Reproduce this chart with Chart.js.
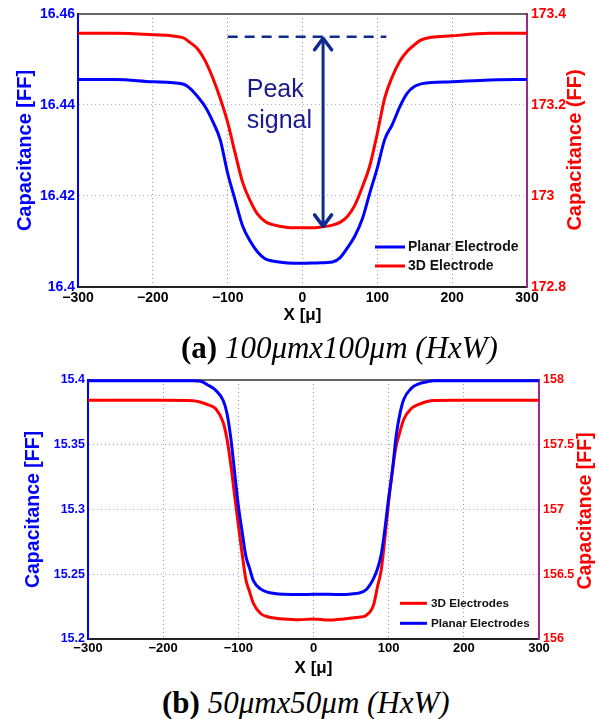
<!DOCTYPE html>
<html><head><meta charset="utf-8">
<script src="https://cdn.jsdelivr.net/npm/chart.js@4.4.1/dist/chart.umd.min.js"></script>
<style>
html,body{margin:0;padding:0;background:#fff;}
body{width:599px;height:719px;position:relative;overflow:hidden;}
canvas{position:absolute;left:0;}
.cap{position:absolute;font-family:"Liberation Serif","Times New Roman",serif;font-size:31px;line-height:31px;white-space:nowrap;color:#000;}
.cap b{font-weight:bold;font-style:normal;} .cap i{font-style:italic;}
</style></head><body>
<canvas id="ca" width="599" height="330" style="top:0"></canvas>
<canvas id="cb" width="599" height="320" style="top:360px"></canvas>
<div class="cap" style="left:181px;top:332px"><b>(a)</b> <i>100μmx100μm (HxW)</i></div>
<div class="cap" style="left:162px;top:687px"><b>(b)</b> <i>50μmx50μm (HxW)</i></div>
<script>
// ---------- data (a) 100umx100um ----------
const X_A = [-300,-250,-200,-160,-150,-140,-130,-120,-110,-100,-90,-80,-70,-60,-50,-40,-20,0,20,40,50,60,70,80,90,100,110,120,130,140,150,160,200,250,300];
const PLANAR_A = [16.4456,16.4456,16.4451,16.4446,16.4436,16.4418,16.4396,16.4364,16.4324,16.4250,16.4191,16.4134,16.4101,16.4077,16.4062,16.4057,16.4053,16.4052,16.4053,16.4055,16.4064,16.4086,16.4112,16.4150,16.4207,16.4262,16.4325,16.4357,16.4396,16.4426,16.4441,16.4447,16.4451,16.4455,16.4456];
const ELEC3D_A = [173.3575,173.3575,173.3545,173.348,173.337,173.323,173.297,173.260,173.215,173.162,173.094,173.030,172.990,172.960,172.944,172.937,172.931,172.930,172.931,172.936,172.942,172.955,172.980,173.020,173.067,173.138,173.216,173.262,173.296,173.318,173.333,173.344,173.352,173.3575,173.3575];
const LABELS_A = ['Planar Electrode','3D Electrode'];
// ---------- data (b) 50umx50um ----------
const X_B = [-300,-200,-160,-150,-140,-130,-120,-115,-110,-105,-100,-95,-90,-85,-80,-70,-60,-50,-40,-20,0,20,40,50,60,70,80,85,90,95,100,105,110,115,120,130,140,150,160,200,300];
const PLANAR_B = [15.3995,15.3995,15.3995,15.399,15.396,15.392,15.384,15.374,15.355,15.329,15.303,15.283,15.264,15.2545,15.245,15.2385,15.236,15.235,15.2346,15.2343,15.2345,15.2346,15.2343,15.2348,15.2354,15.2380,15.2468,15.254,15.265,15.285,15.309,15.330,15.357,15.374,15.385,15.3935,15.397,15.3985,15.3995,15.3995,15.3995];
const ELEC3D_B = [157.843,157.843,157.840,157.828,157.808,157.778,157.670,157.540,157.345,157.110,156.880,156.660,156.460,156.365,156.275,156.195,156.170,156.160,156.154,156.148,156.155,156.146,156.155,156.162,156.168,156.182,156.265,156.400,156.530,156.780,157.060,157.305,157.490,157.600,157.695,157.780,157.812,157.832,157.842,157.843,157.843];
const LABELS_B = ['Planar Electrodes','3D Electrodes'];
// ---------- ticks ----------
const X_TICKS = [-300,-200,-100,0,100,200,300];
const Y_TICKS_A_LEFT = [16.4,16.42,16.44,16.46];
const Y_TICKS_A_RIGHT = [172.8,173,173.2,173.4];
const Y_TICKS_B_LEFT = [15.2,15.25,15.3,15.35,15.4];
const Y_TICKS_B_RIGHT = [156,156.5,157,157.5,158];
// ---------- annotation (a) ----------
const PEAK_DASH_X = [-100,112];
const PEAK_X = 27.5;
const PEAK_RANGE = [173.35,172.93];
const PEAK_TEXT = ['Peak','signal'];
const PEAK_TEXT_POS = [-74.5,173.217];

const BLUE='#0000ff', RED='#ff0000', FONT='"Liberation Sans", Arial, sans-serif';
const fmt = v => String(+(+v).toFixed(4)).replace('-','\u2212');

const framePlugin = {
  id:'frame',
  beforeDatasetsDraw(chart){
    const {ctx, chartArea:a} = chart;
    ctx.save(); ctx.strokeStyle='#333'; ctx.lineWidth=1.5;
    ctx.beginPath(); ctx.moveTo(a.left,a.top); ctx.lineTo(a.right,a.top); ctx.stroke(); ctx.restore();
  }
};
const legendPlugin = {
  id:'inlegend',
  afterDatasetsDraw(chart, args, o){
    if(!o || !o.order) return;
    const ctx=chart.ctx; ctx.save();
    ctx.font='bold '+o.size+'px '+FONT; ctx.textBaseline='middle'; ctx.fillStyle='#111';
    o.order.forEach((di,k)=>{
      const ds=chart.data.datasets[di]; const y=o.y+k*o.dy;
      ctx.strokeStyle=ds.borderColor; ctx.lineWidth=3;
      ctx.beginPath(); ctx.moveTo(o.x0,y); ctx.lineTo(o.x1,y); ctx.stroke();
      ctx.fillText(ds.label,o.tx,y+0.5);
    });
    ctx.restore();
  }
};
const rightTitlePlugin = {
  id:'rtitle',
  afterDraw(chart,args,o){
    if(!o || !o.text) return;
    const ctx=chart.ctx; ctx.save();
    ctx.translate(o.x,o.y); ctx.rotate(-Math.PI/2);
    ctx.font='bold '+o.size+'px '+FONT; ctx.fillStyle=RED; ctx.textAlign='center'; ctx.textBaseline='middle';
    ctx.fillText(o.text,0,0); ctx.restore();
  }
};
const peakPlugin = {
  id:'peak',
  afterDatasetsDraw(chart,args,o){
    if(!o || !o.on) return;
    const ctx=chart.ctx, sx=chart.scales.x, sy=chart.scales.y2;
    const col='#102a8f';
    ctx.save();
    ctx.strokeStyle=col; ctx.lineWidth=2.5; ctx.setLineDash([10,7]);
    const yd=sy.getPixelForValue(PEAK_RANGE[0]);
    ctx.beginPath(); ctx.moveTo(sx.getPixelForValue(PEAK_DASH_X[0]),yd); ctx.lineTo(sx.getPixelForValue(PEAK_DASH_X[1]),yd); ctx.stroke();
    ctx.setLineDash([]);
    const xa=sx.getPixelForValue(PEAK_X), y1=sy.getPixelForValue(PEAK_RANGE[0]), y2=sy.getPixelForValue(PEAK_RANGE[1]);
    ctx.lineWidth=3; ctx.lineCap='round'; ctx.lineJoin='round';
    ctx.beginPath(); ctx.moveTo(xa,y1+2); ctx.lineTo(xa,y2-2); ctx.stroke();
    ctx.lineWidth=3.5;
    ctx.beginPath(); ctx.moveTo(xa-8.5,y1+13); ctx.lineTo(xa,y1+1.5); ctx.lineTo(xa+8.5,y1+13); ctx.stroke();
    ctx.beginPath(); ctx.moveTo(xa-8.5,y2-13); ctx.lineTo(xa,y2-1.5); ctx.lineTo(xa+8.5,y2-13); ctx.stroke();
    ctx.fillStyle='#1a1a8c'; ctx.font='25px '+FONT; ctx.textBaseline='alphabetic'; ctx.textAlign='left';
    const tx=sx.getPixelForValue(PEAK_TEXT_POS[0]), ty=sy.getPixelForValue(PEAK_TEXT_POS[1]);
    PEAK_TEXT.forEach((t,i)=>ctx.fillText(t,tx,ty+i*31));
    ctx.restore();
  }
};

function build(id, c){
  const mk=(xs,ys,label,color,axis)=>({label, data:xs.map((x,i)=>({x,y:ys[i]})), yAxisID:axis,
    borderColor:color, backgroundColor:color, borderWidth:3, pointRadius:0, fill:false,
    cubicInterpolationMode:'monotone', clip:4});
  return new Chart(document.getElementById(id), {
    type:'line',
    data:{datasets:[mk(c.xs,c.planar,c.labels[0],BLUE,'y'), mk(c.xs,c.e3d,c.labels[1],RED,'y2')]},
    plugins:[framePlugin,legendPlugin,rightTitlePlugin,peakPlugin],
    options:{
      responsive:false, animation:false, events:[], devicePixelRatio:1,
      layout:{padding:{top:c.top,left:0,right:0,bottom:0}},
      plugins:{legend:{display:false}, tooltip:{enabled:false},
        inlegend:c.legend, rtitle:c.rtitle, peak:{on:c.peak}},
      scales:{
        x:{type:'linear', min:-300, max:300,
          afterBuildTicks:s=>{s.ticks=X_TICKS.map(v=>({value:v}));},
          afterFit:s=>{s.height=c.xh;},
          ticks:{callback:fmt, color:'#000', font:{family:FONT,size:c.xts,weight:'bold'}, padding:c.xtp, maxRotation:0, autoSkip:false},
          grid:{color:ctx=>(ctx.index===0||ctx.index===X_TICKS.length-1)?'rgba(0,0,0,0)':'#9a9a9a', lineWidth:1, drawTicks:false},
          border:{color:'#222', width:2, dash:[1,3]},
          title:{display:true, text:'X [μ]', color:'#000', font:{family:FONT,size:17,weight:'bold'}, padding:{top:0,bottom:c.xtitlePad}}
        },
        y:{type:'linear', position:'left', min:c.yl[0], max:c.yl[c.yl.length-1],
          afterBuildTicks:s=>{s.ticks=c.yl.map(v=>({value:v}));},
          afterFit:s=>{s.width=c.lw;},
          ticks:{callback:fmt, color:BLUE, font:{family:FONT,size:c.yts,weight:'bold'}, padding:3},
          grid:{color:ctx=>(ctx.index===0||ctx.index===c.yl.length-1)?'rgba(0,0,0,0)':'#a8a8ff', lineWidth:1, drawTicks:false},
          border:{color:BLUE, width:2, dash:[1,3]},
          title:{display:true, text:'Capacitance [FF]', color:BLUE, font:{family:FONT,size:c.ttl,weight:'bold'}, padding:{top:c.ltitlePad,bottom:0}}
        },
        y2:{type:'linear', position:'right', min:c.yr[0], max:c.yr[c.yr.length-1],
          afterBuildTicks:s=>{s.ticks=c.yr.map(v=>({value:v}));},
          afterFit:s=>{s.width=c.rw;},
          ticks:{callback:fmt, color:RED, font:{family:FONT,size:c.yts,weight:'bold'}, padding:4},
          grid:{drawOnChartArea:false, drawTicks:false},
          border:{color:'#a0288c', width:2}
        }
      }
    }
  });
}

build('ca',{xs:X_A, planar:PLANAR_A, e3d:ELEC3D_A, labels:LABELS_A, yl:Y_TICKS_A_LEFT, yr:Y_TICKS_A_RIGHT,
  top:14, xh:43, lw:78, rw:72, xts:14, yts:14, xtp:3, xtitlePad:4.8, ttl:20, ltitlePad:13, peak:true,
  legend:{order:[0,1], size:14, x0:375, x1:405, tx:408, y:247, dy:19},
  rtitle:{text:'Capacitance (FF)', x:575, y:150, size:20}});
build('cb',{xs:X_B, planar:PLANAR_B, e3d:ELEC3D_B, labels:LABELS_B, yl:Y_TICKS_B_LEFT, yr:Y_TICKS_B_RIGHT,
  top:20, xh:41, lw:88, rw:60, xts:13, yts:12.5, xtp:2, xtitlePad:1.8, ttl:19.5, ltitlePad:21.6, peak:false,
  legend:{order:[1,0], size:11.7, x0:400, x1:427, tx:431, y:243.3, dy:20},
  rtitle:{text:'Capacitance [FF]', x:586, y:151, size:19.5}});
</script>
</body></html>
